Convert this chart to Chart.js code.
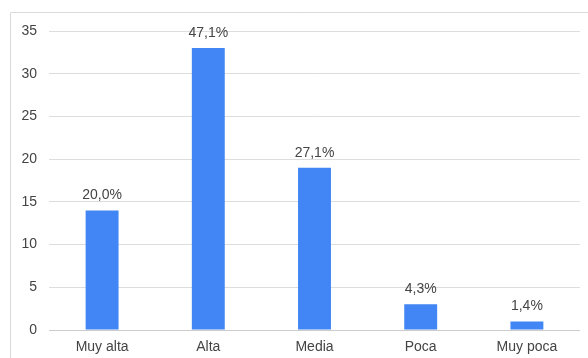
<!DOCTYPE html>
<html>
<head>
<meta charset="utf-8">
<script src="https://cdn.jsdelivr.net/npm/chart.js@4/dist/chart.umd.min.js"></script>
<style>
html,body{margin:0;padding:0;background:#fff;}
#wrap{position:relative;width:588px;height:358px;}
</style>
</head>
<body>
<div id="wrap"><canvas id="c" width="588" height="358"></canvas></div>
<script>
const categories = ["Muy alta", "Alta", "Media", "Poca", "Muy poca"];
const values = [14, 33, 19, 3, 1];
const valueLabels = ["20,0%", "47,1%", "27,1%", "4,3%", "1,4%"];
const yTicks = [0, 5, 10, 15, 20, 25, 30, 35];

const FONT = "'Liberation Sans', Arial, sans-serif";

const frame = {
  id: 'frame',
  beforeDraw(chart) {
    const ctx = chart.ctx;
    ctx.save();
    ctx.strokeStyle = '#d9d9d9';
    ctx.lineWidth = 1;
    ctx.beginPath();
    ctx.moveTo(10.5, 358);
    ctx.lineTo(10.5, 12.5);
    ctx.lineTo(588, 12.5);
    ctx.stroke();
    ctx.restore();
  }
};

const barLabels = {
  id: 'barLabels',
  afterDatasetsDraw(chart) {
    const ctx = chart.ctx;
    const meta = chart.getDatasetMeta(0);
    ctx.save();
    ctx.font = "14px " + FONT;
    ctx.fillStyle = '#444444';
    ctx.textAlign = 'center';
    ctx.textBaseline = 'bottom';
    meta.data.forEach((bar, i) => {
      ctx.fillText(valueLabels[i], bar.x, bar.y - 8);
    });
    ctx.restore();
  }
};

new Chart(document.getElementById('c'), {
  type: 'bar',
  data: {
    labels: categories,
    datasets: [{
      data: values,
      backgroundColor: '#4285F4',
      borderWidth: 0,
      barPercentage: 0.31,
      categoryPercentage: 1.0
    }]
  },
  options: {
    responsive: false,
    animation: false,
    devicePixelRatio: 1,
    layout: { padding: { left: 0, right: 8, top: 31, bottom: 0 } },
    plugins: { legend: { display: false }, tooltip: { enabled: false } },
    scales: {
      x: {
        grid: { display: false, drawTicks: false },
        border: { display: false },
        ticks: { color: '#444444', font: { family: FONT, size: 14 }, padding: 9, maxRotation: 0 },
        afterFit(scale) { scale.height = 28; }
      },
      y: {
        min: 0,
        max: 35,
        afterBuildTicks(scale) { scale.ticks = yTicks.map(v => ({ value: v })); },
        grid: {
          drawTicks: false,
          color: ctx => ctx.tick && ctx.tick.value === 0 ? '#cccccc' : '#dddddd',
          lineWidth: 1
        },
        border: { display: false },
        ticks: { color: '#444444', font: { family: FONT, size: 14 }, padding: 12 },
        afterFit(scale) { scale.width = 49; }
      }
    }
  },
  plugins: [frame, barLabels]
});
</script>
</body>
</html>
